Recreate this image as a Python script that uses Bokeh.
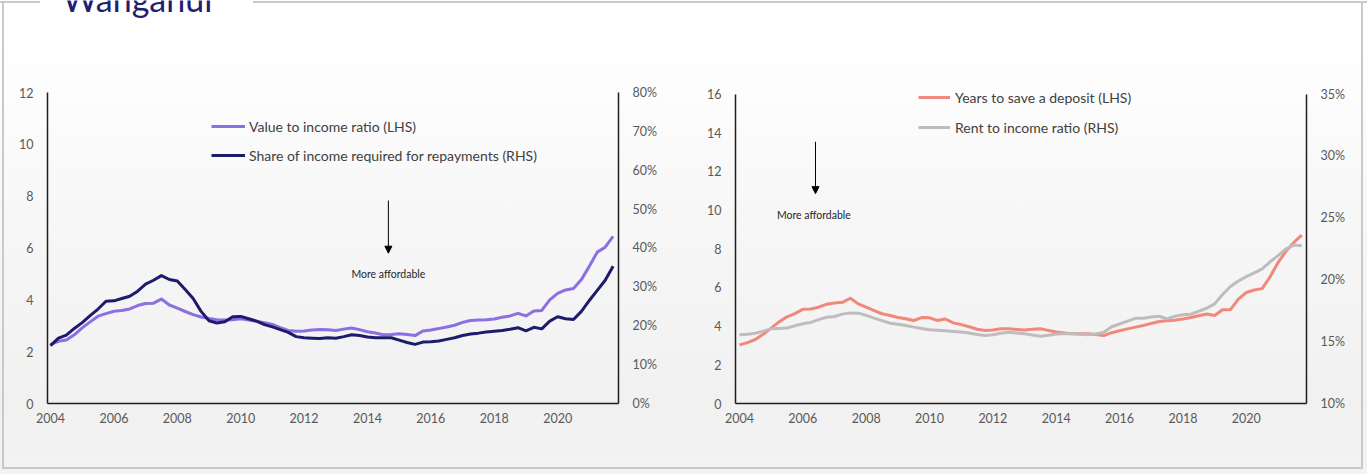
import numpy as np
from bokeh.plotting import figure
from bokeh.models import (Range1d, LinearAxis, FixedTicker, PrintfTickFormatter, Legend,
                          LegendItem, Label, Arrow, NormalHead)
from bokeh.layouts import row
from bokeh.embed import file_html
from bokeh.resources import INLINE

# ---------------- data (quarterly, 2004Q1 .. 2021Q4) ----------------
quarters = list(np.arange(72) * 0.25 + 2004.0)

value_to_income = [
    2.28, 2.40, 2.45, 2.65, 2.92, 3.15, 3.37, 3.47, 3.56, 3.59, 3.65, 3.78,
    3.86, 3.87, 4.03, 3.80, 3.68, 3.55, 3.43, 3.34, 3.28, 3.23, 3.22, 3.23,
    3.27, 3.22, 3.17, 3.12, 3.05, 2.93, 2.82, 2.79, 2.80, 2.84, 2.86, 2.85,
    2.82, 2.87, 2.91, 2.85, 2.77, 2.72, 2.65, 2.66, 2.69, 2.66, 2.62, 2.80,
    2.84, 2.89, 2.95, 3.02, 3.13, 3.20, 3.22, 3.23, 3.26, 3.33, 3.38, 3.48,
    3.38, 3.57, 3.59, 4.00, 4.25, 4.38, 4.44, 4.78, 5.30, 5.84, 6.03, 6.45]

repayment_share = [  # % of income
    14.9, 16.8, 17.6, 19.3, 20.8, 22.6, 24.3, 26.3, 26.4, 27.0, 27.6, 28.9,
    30.7, 31.7, 32.9, 31.9, 31.5, 29.3, 27.0, 23.7, 21.3, 20.7, 21.0, 22.3,
    22.4, 21.8, 21.2, 20.3, 19.7, 19.0, 18.3, 17.2, 16.9, 16.8, 16.7, 16.9,
    16.8, 17.2, 17.7, 17.5, 17.1, 16.9, 16.9, 16.9, 16.3, 15.7, 15.2, 15.8,
    15.9, 16.1, 16.5, 16.9, 17.5, 17.9, 18.1, 18.4, 18.6, 18.8, 19.1, 19.5,
    18.7, 19.6, 19.2, 21.2, 22.3, 21.8, 21.6, 23.7, 26.5, 29.1, 31.7, 35.3]

years_to_save = [
    3.03, 3.15, 3.31, 3.58, 3.90, 4.22, 4.48, 4.65, 4.87, 4.89, 4.98, 5.13,
    5.20, 5.23, 5.44, 5.15, 4.98, 4.80, 4.64, 4.55, 4.45, 4.38, 4.29, 4.44,
    4.43, 4.29, 4.37, 4.17, 4.08, 3.97, 3.84, 3.77, 3.80, 3.86, 3.86, 3.83,
    3.80, 3.84, 3.86, 3.78, 3.70, 3.65, 3.60, 3.61, 3.60, 3.57, 3.51, 3.66,
    3.76, 3.86, 3.95, 4.03, 4.14, 4.24, 4.28, 4.31, 4.37, 4.45, 4.54, 4.63,
    4.55, 4.85, 4.85, 5.40, 5.74, 5.87, 5.94, 6.55, 7.28, 7.87, 8.33, 8.70]

rent_to_income = [  # %
    15.55, 15.60, 15.67, 15.85, 16.03, 16.06, 16.09, 16.28, 16.44, 16.55, 16.78, 16.97,
    17.03, 17.22, 17.32, 17.30, 17.12, 16.90, 16.70, 16.49, 16.40, 16.30, 16.17, 16.06,
    15.95, 15.92, 15.88, 15.82, 15.77, 15.70, 15.58, 15.50, 15.55, 15.68, 15.76, 15.70,
    15.63, 15.53, 15.44, 15.52, 15.62, 15.63, 15.63, 15.60, 15.56, 15.62, 15.76, 16.20,
    16.42, 16.65, 16.88, 16.89, 16.98, 17.05, 16.84, 17.05, 17.17, 17.21, 17.45, 17.70,
    18.05, 18.80, 19.45, 19.90, 20.25, 20.55, 20.87, 21.45, 21.95, 22.48, 22.80, 22.75]

x_ticks = [2004, 2006, 2008, 2010, 2012, 2014, 2016, 2018, 2020]
left_lhs_ticks = [0, 2, 4, 6, 8, 10, 12]
left_rhs_ticks = [0, 10, 20, 30, 40, 50, 60, 70, 80]
right_lhs_ticks = [0, 2, 4, 6, 8, 10, 12, 14, 16]
right_rhs_ticks = [10, 15, 20, 25, 30, 35]

title_text = "Wanganui"
note_text = "More affordable"

# ---------------- styling ----------------
FONT = "Lato"
TICK_COLOR = "#595959"
AXIS_COLOR = "#1e1e1e"
PURPLE = "#8c6fe0"
NAVY = "#1d1b6b"
SALMON = "#f2877c"
GREY = "#bdbdbd"
BORDER = "#c9c9c9"
H = 474


def seg(x, y, w, h):
    return "linear-gradient(%s,%s) %dpx %dpx / %dpx %dpx no-repeat" % (BORDER, BORDER, x, y, w, h)


BASE_BG = "linear-gradient(to bottom, #ffffff 0%, #fefefe 14%, #f7f7f7 45%, #f1f1f1 85%, #f3f3f3 100%)"


def style_axis(ax, standoff=14):
    ax.axis_line_color = AXIS_COLOR
    ax.axis_line_width = 1.5
    ax.major_tick_line_color = None
    ax.minor_tick_line_color = None
    ax.major_tick_out = 0
    ax.major_tick_in = 0
    ax.major_label_standoff = standoff
    ax.major_label_text_font = FONT
    ax.major_label_text_font_size = "12.5px"
    ax.major_label_text_color = TICK_COLOR


def make_fig(width, bl, br, bb, xr, yr, rhs, lhs_bounds, rhs_bounds, background):
    p = figure(width=width, height=H, output_backend="svg", toolbar_location=None,
               x_range=xr, y_range=yr, min_border_left=bl, min_border_right=br,
               min_border_top=0, min_border_bottom=bb,
               styles={"background": background})
    p.background_fill_color = None
    p.border_fill_color = None
    p.outline_line_color = None
    p.xgrid.visible = False
    p.ygrid.visible = False
    p.extra_y_ranges = {"rhs": rhs}
    style_axis(p.xaxis[0], standoff=9)
    style_axis(p.yaxis[0], standoff=14)
    p.xaxis[0].ticker = FixedTicker(ticks=x_ticks)
    p.yaxis[0].bounds = lhs_bounds
    ax = LinearAxis(y_range_name="rhs")
    style_axis(ax, standoff=14)
    ax.formatter = PrintfTickFormatter(format="%d%%")
    ax.bounds = rhs_bounds
    p.add_layout(ax, "right")
    return p, ax


# ---------------- left chart ----------------
W1 = 683
bg1 = ", ".join([seg(0, 1, 40, 2), seg(253, 1, W1 - 253, 2), seg(2, 1, 2, 468),
                 seg(2, 467, W1 - 2, 2), BASE_BG])
p1, rax1 = make_fig(W1, 47, 65, 71, Range1d(2003.905, 2021.92), Range1d(0, 15.55),
                    Range1d(0, 103.66), (0, 12), (0, 80), bg1)
p1.yaxis[0].ticker = FixedTicker(ticks=left_lhs_ticks)
rax1.ticker = FixedTicker(ticks=left_rhs_ticks)

r_vti = p1.line(quarters, value_to_income, line_color=PURPLE, line_width=3, line_join="round")
r_rep = p1.line(quarters, repayment_share, line_color=NAVY, line_width=3, line_join="round",
                y_range_name="rhs")

leg1 = Legend(items=[LegendItem(label="Value to income ratio (LHS)", renderers=[r_vti]),
                     LegendItem(label="Share of income required for repayments (RHS)", renderers=[r_rep])],
              location=(164, 238), orientation="vertical",
              label_text_font=FONT, label_text_font_size="14px", label_text_color="#404040",
              glyph_width=34, glyph_height=20, label_height=20, label_standoff=4, spacing=9,
              padding=0, margin=0, border_line_color=None, background_fill_alpha=0)
p1.add_layout(leg1)

p1.add_layout(Arrow(x_start=2014.66, y_start=7.83, x_end=2014.66, y_end=5.80,
                    line_color="black", line_width=1,
                    end=NormalHead(size=7, fill_color="black", line_color="black")))
p1.add_layout(Label(x=2014.66, y=5.0, text=note_text, text_align="center", text_baseline="middle",
                    text_font=FONT, text_font_size="10.5px", text_color="#262626"))

# panel title, cut off by the top edge as in the original screenshot
p1.add_layout(Label(x=15, y=405, x_units="screen", y_units="screen", text=title_text,
                    text_font=FONT, text_font_size="34px", text_color="#201d73",
                    text_baseline="alphabetic", text_align="left"))

# ---------------- right chart ----------------
W2 = 684
bg2 = ", ".join([seg(0, 1, W2, 2), seg(678, 1, 2, 468), seg(0, 467, 680, 2), BASE_BG])
p2, rax2 = make_fig(W2, 52, 61, 69, Range1d(2003.875, 2021.9), Range1d(0, 20.836),
                    Range1d(10, 42.556), (0, 16), (10, 35), bg2)
p2.yaxis[0].ticker = FixedTicker(ticks=right_lhs_ticks)
rax2.ticker = FixedTicker(ticks=right_rhs_ticks)

r_yts = p2.line(quarters, years_to_save, line_color=SALMON, line_width=3, line_join="round")
r_rti = p2.line(quarters, rent_to_income, line_color=GREY, line_width=3, line_join="round",
                y_range_name="rhs")

leg2 = Legend(items=[LegendItem(label="Years to save a deposit (LHS)", renderers=[r_yts]),
                     LegendItem(label="Rent to income ratio (RHS)", renderers=[r_rti])],
              location=(183, 266), orientation="vertical",
              label_text_font=FONT, label_text_font_size="14px", label_text_color="#404040",
              glyph_width=32, glyph_height=20, label_height=20, label_standoff=5, spacing=10,
              padding=0, margin=0, border_line_color=None, background_fill_alpha=0)
p2.add_layout(leg2)

p2.add_layout(Arrow(x_start=2006.4, y_start=13.53, x_end=2006.4, y_end=10.85,
                    line_color="black", line_width=1,
                    end=NormalHead(size=7, fill_color="black", line_color="black")))
p2.add_layout(Label(x=2006.35, y=9.77, text=note_text, text_align="center", text_baseline="middle",
                    text_font=FONT, text_font_size="10.5px", text_color="#262626"))

layout = row(p1, p2)
open("out.html", "w").write(file_html(layout, INLINE))
